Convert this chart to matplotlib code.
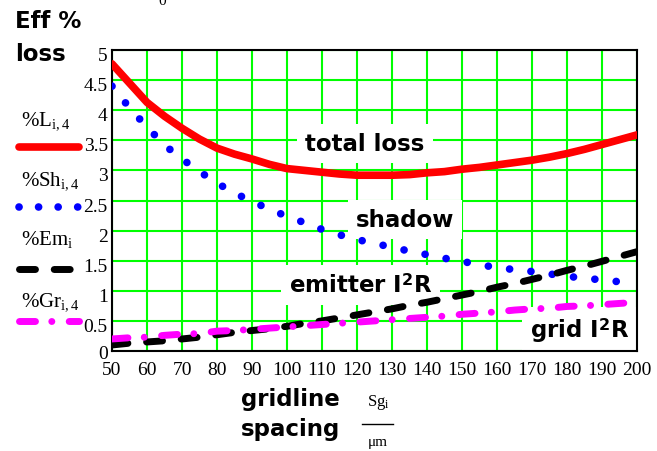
import matplotlib.pyplot as plt
from matplotlib.lines import Line2D
from matplotlib.transforms import ScaledTranslation

plt.rcParams['mathtext.fontset'] = 'custom'
plt.rcParams['mathtext.rm'] = 'Liberation Serif'
plt.rcParams['mathtext.it'] = 'Liberation Serif:italic'
plt.rcParams['mathtext.bf'] = 'DejaVu Sans:bold'

# gridline spacing (um) and the loss components (%)
spacing = [50, 55, 60, 65, 70, 75, 80, 85, 90, 95, 100, 105, 110, 115, 120, 125,
           130, 135, 140, 145, 150, 155, 160, 165, 170, 175, 180, 185, 190, 195, 200]
total_loss = [4.77, 4.45, 4.13, 3.90, 3.70, 3.52, 3.37, 3.27, 3.19, 3.10, 3.03,
              3.00, 2.97, 2.94, 2.92, 2.92, 2.92, 2.93, 2.96, 2.98, 3.02, 3.05,
              3.09, 3.13, 3.17, 3.22, 3.28, 3.35, 3.43, 3.51, 3.59]
shadow = [4.40, 4.04, 3.72, 3.42, 3.19, 2.98, 2.79, 2.62, 2.49, 2.35, 2.24, 2.13,
          2.02, 1.93, 1.85, 1.79, 1.72, 1.66, 1.60, 1.54, 1.49, 1.43, 1.39, 1.35,
          1.32, 1.28, 1.24, 1.21, 1.18, 1.15, 1.11]
emitter = [0.10, 0.13, 0.15, 0.17, 0.20, 0.23, 0.27, 0.31, 0.34, 0.37, 0.41, 0.46,
           0.50, 0.55, 0.60, 0.65, 0.70, 0.76, 0.81, 0.87, 0.93, 0.99, 1.06, 1.12,
           1.19, 1.26, 1.34, 1.41, 1.49, 1.57, 1.65]
grid_loss = [0.20, 0.22, 0.23, 0.26, 0.28, 0.29, 0.33, 0.34, 0.36, 0.38, 0.40, 0.42,
             0.44, 0.46, 0.48, 0.50, 0.52, 0.54, 0.56, 0.58, 0.61, 0.63, 0.65, 0.68,
             0.70, 0.71, 0.74, 0.75, 0.77, 0.79, 0.81]

xticks = [50, 60, 70, 80, 90, 100, 110, 120, 130, 140, 150, 160, 170, 180, 190, 200]
yticks = [0, 0.5, 1, 1.5, 2, 2.5, 3, 3.5, 4, 4.5, 5]
ytick_labels = ['0', '0.5', '1', '1.5', '2', '2.5', '3', '3.5', '4', '4.5', '5']

W, H = 657, 452


def fx(px):
    return px / W


def fy(py):
    return 1 - py / H


fig = plt.figure(figsize=(W / 100, H / 100), dpi=100)
ax = fig.add_axes([fx(112), fy(352), (637 - 112) / W, (352 - 51) / H])

# curve styles
red_kw = dict(color='#ff0000', lw=5.5, solid_capstyle='round')
blue_kw = dict(color='#0000ff', lw=5.5, ls=(0, (0.01, 2.8)), dash_capstyle='round')
black_kw = dict(color='black', lw=5, ls=(0, (2.3, 2.7)), dash_capstyle='round')
mag_kw = dict(color='#ff00ff', lw=5, ls=(0, (2.3, 2.35, 0.01, 2.5)), dash_capstyle='round')

ax.plot(spacing, total_loss, zorder=3, **red_kw)
ax.plot(spacing, shadow, zorder=3, **blue_kw)
ax.plot(spacing, emitter, zorder=3, **black_kw)
ax.plot(spacing, grid_loss, zorder=3, **mag_kw)

ax.set_xlim(50, 200)
ax.set_ylim(0, 5)
ax.set_xticks(xticks)
ax.set_xticklabels([str(v) for v in xticks])
ax.set_yticks(yticks)
ax.set_yticklabels(ytick_labels)
ax.set_axisbelow(True)
ax.grid(True, color='#00ff00', lw=1.5)
ax.tick_params(length=0, labelsize=14)
ax.tick_params(axis='x', pad=7)
ax.tick_params(axis='y', pad=3)
for lab in ax.get_xticklabels() + ax.get_yticklabels():
    lab.set_family('Liberation Serif')
# y labels sit a little below their gridlines; the zero one less so
for i, lab in enumerate(ax.get_yticklabels()):
    shift = -0.01 if i == 0 else -0.035
    lab.set_transform(lab.get_transform() + ScaledTranslation(0, shift, fig.dpi_scale_trans))
for sp in ax.spines.values():
    sp.set_linewidth(1.5)
    sp.set_color('black')

# curve labels on white boxes
lab_kw = dict(ha='center', va='baseline', fontsize=16.5, fontweight='bold',
              family='DejaVu Sans', zorder=1.5,
              bbox=dict(facecolor='white', edgecolor='none', pad=6))
ax.text(122.3, 3.34, 'total loss', **lab_kw)
ax.text(133.7, 2.08, 'shadow', **lab_kw)
ax.text(121.0, 0.985, r'emitter I$^{\mathbf{2}}$R', **lab_kw)
ax.text(183.7, 0.23, r'grid I$^{\mathbf{2}}$R', **lab_kw)

# y axis title
fig.text(fx(15), fy(28), 'Eff %', fontsize=16.5, fontweight='bold', family='DejaVu Sans')
fig.text(fx(15), fy(61), 'loss', fontsize=16.5, fontweight='bold', family='DejaVu Sans')
fig.text(fx(158), fy(5), '0', fontsize=11, family='Liberation Serif')

# trace legend down the left side
legend_dots = dict(blue_kw, ls=(0, (0.01, 2.55)))
legend = [
    (r'%L$_{\rm i,4}$', 125, 147.5, red_kw),
    (r'%Sh$_{\rm i,4}$', 185, 208, legend_dots),
    (r'%Em$_{\rm i}$', 245, 270, black_kw),
    (r'%Gr$_{\rm i,4}$', 306, 322, mag_kw),
]
for text, ty, ly, kw in legend:
    fig.text(fx(21), fy(ty), text, fontsize=15, family='Liberation Serif')
    fig.add_artist(Line2D([fx(18.5), fx(79)], [fy(ly), fy(ly)], **kw))

# x axis title
fig.text(fx(241), fy(406), 'gridline', fontsize=16.5, fontweight='bold', family='DejaVu Sans')
fig.text(fx(241), fy(436), 'spacing', fontsize=16.5, fontweight='bold', family='DejaVu Sans')
fig.text(fx(378), fy(406), r'Sg$_{\rm i}$', fontsize=12, ha='center', family='Liberation Serif')
fig.add_artist(Line2D([fx(362), fx(393)], [fy(425), fy(425)], color='black', lw=1))
fig.text(fx(378), fy(446), 'μm', fontsize=11, ha='center', family='Liberation Serif')

fig.savefig('out.png', dpi=100)
